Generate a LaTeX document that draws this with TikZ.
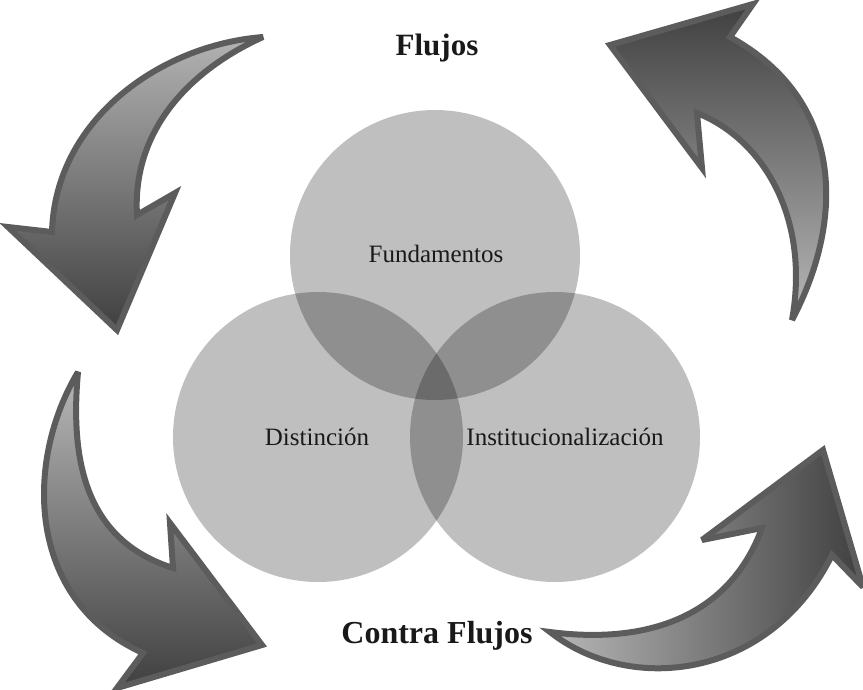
\documentclass[tikz,border=0pt]{standalone}
\usepackage{fontspec}
\setmainfont{Liberation Serif}
\begin{document}
\begin{tikzpicture}[x=1pt,y=-1pt,
  venn/.style={circle, fill=black, fill opacity=0.25, minimum size=290pt, inner sep=0pt},
  lbl/.style={font=\fontsize{25}{28}\selectfont, text=black!90},
  ttl/.style={font=\fontsize{31}{35}\selectfont\bfseries, text=black!90},
  blockarrow/.style={draw=black!64, line width=6pt, line join=miter, miter limit=4}]
\useasboundingbox (0,0) rectangle (863,689);

% Venn circles
\node[venn] (fund) at (435,255) {};
\node[venn] (dist) at (318,437) {};
\node[venn] (inst) at (555,437) {};
\node[lbl] (lf) at (436,254) {Fundamentos};
\node[lbl] (ld) at (317,437) {Distinción};
\node[lbl] (li) at (565,437) {Institucionalización};

% Titles
\node[ttl] (flujos) at (437,48) {Flujos};
\node[ttl, font=\fontsize{32}{36}\selectfont\bfseries] (contra) at (437,636) {Contra Flujos};

% Arrow 1: top left, pointing down-left
\path[blockarrow, top color=black!30, bottom color=black!75]
  (263,37) .. controls (160,45) and (55,120) .. (52,232)
  -- (8,227) -- (117,330) -- (175,193) -- (137,215)
  .. controls (132,130) and (190,70) .. (263,37) -- cycle;

% Arrow 2: top right, pointing up-left
\path[blockarrow, top color=black!75, bottom color=black!28]
  (792,320) .. controls (845,220) and (845,100) .. (730,37)
  -- (753,4) -- (610,45) -- (702,168) -- (697,113)
  .. controls (765,140) and (810,220) .. (792,320) -- cycle;

% Arrow 3: bottom left, pointing down-right
\path[blockarrow, top color=black!28, bottom color=black!75]
  (78,372) .. controls (25,460) and (25,600) .. (143,653)
  -- (117,688) -- (262,645) -- (170,523) -- (173,568)
  .. controls (85,540) and (70,460) .. (78,372) -- cycle;

% Arrow 4: bottom right, pointing up-right
\path[blockarrow, left color=black!28, right color=black!75]
  (550,632) .. controls (630,695) and (770,680) .. (832,555)
  -- (863,587) -- (823,450) -- (702,540) -- (762,528)
  .. controls (730,615) and (650,645) .. (550,632) -- cycle;
\end{tikzpicture}
\end{document}
